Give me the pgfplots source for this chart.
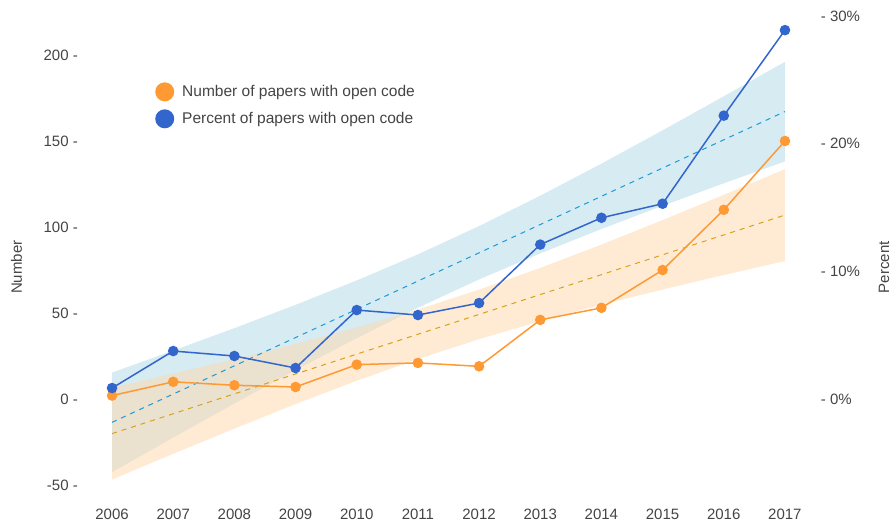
\documentclass[border=0pt]{standalone}
\usepackage{pgfplots}
\pgfplotsset{compat=1.18}
\usepackage{pgfplotstable}
\usepgfplotslibrary{fillbetween}
\usepackage{fontspec}
\setmainfont{Liberation Sans}
\definecolor{orgline}{HTML}{FF9933}
\definecolor{blueline}{HTML}{3366CC}
\definecolor{orgdash}{HTML}{D6A21C}
\definecolor{bluedash}{HTML}{1A9AD6}
\definecolor{orgband}{HTML}{FFD7AA}
\definecolor{blueband}{HTML}{ADD8E6}
\definecolor{txt}{HTML}{444444}

% year, number of papers
\pgfplotstableread{
year num
2006 2
2007 10
2008 8
2009 7
2010 20
2011 21
2012 19
2013 46
2014 53
2015 75
2016 110
2017 150
}\numtab
% year, percent of papers
\pgfplotstableread{
year pct
2006 0.86
2007 3.76
2008 3.37
2009 2.43
2010 6.97
2011 6.58
2012 7.52
2013 12.1
2014 14.2
2015 15.3
2016 22.2
2017 28.9
}\pcttab
% linear trend of number with band
\pgfplotstableread{
year fit lo hi
2006 -20.10 -46.80 6.60
2007 -8.55 -31.85 14.75
2008 3.00 -17.20 23.20
2009 14.55 -2.95 32.05
2010 26.10 10.60 41.60
2011 37.64 23.24 52.04
2012 49.19 34.79 63.59
2013 60.74 45.24 76.24
2014 72.29 54.79 89.79
2015 83.84 63.64 104.04
2016 95.39 72.09 118.69
2017 106.94 80.24 133.64
}\numfit
% linear trend of percent with band
\pgfplotstableread{
year fit lo hi
2006 -1.826 -5.73 2.07
2007 0.388 -3.02 3.80
2008 2.601 -0.35 5.55
2009 4.815 2.26 7.38
2010 7.028 4.77 9.29
2011 9.242 7.15 11.33
2012 11.456 9.37 13.55
2013 13.669 11.41 15.93
2014 15.883 13.32 18.44
2015 18.096 15.14 21.05
2016 20.310 16.90 23.72
2017 22.524 18.62 26.42
}\pctfit

\pgfplotsset{
  base/.style={
    scale only axis, width=697.4pt, height=476.5pt,
    at={(0,0)}, anchor=south west,
    xmin=2005.8, xmax=2017.2, clip=false,
    axis line style={draw=none}, tick style={draw=none},
    major tick length=0pt,
    font=\fontsize{15}{18}\selectfont,
    every tick label/.append style={text=txt},
  },
  numax/.style={base, ymin=-53, ymax=224},
  pctax/.style={base, ymin=-7.143, ymax=30.189},
}

\begin{document}
\begin{tikzpicture}
% blue band and blue trend
\begin{axis}[pctax, hide axis]
\addplot[name path=bhi, draw=none, forget plot] table[x=year, y=hi] {\pctfit};
\addplot[name path=blo, draw=none, forget plot] table[x=year, y=lo] {\pctfit};
\addplot[blueband, fill opacity=0.5, draw=none, forget plot] fill between[of=bhi and blo];
\addplot[bluedash, line width=1pt, dash pattern=on 5pt off 5pt, forget plot]
  table[x=year, y=fit] {\pctfit};
\end{axis}
% number axis: orange band, trend and line
\begin{axis}[numax,
  axis x line=bottom, axis y line=left,
  xtick={2006,...,2017},
  xticklabels={2006,2007,2008,2009,2010,2011,2012,2013,2014,2015,2016,2017},
  xticklabel style={anchor=north, inner sep=0pt, yshift=-19pt},
  ytick={-50,0,50,100,150,200},
  yticklabels={-50 -,0 -,50 -,100 -,150 -,200 -},
  yticklabel style={anchor=east, inner sep=0pt, xshift=-21.8pt},
  ylabel={Number},
  every axis y label/.style={at={(axis description cs:-0.1194,0.468)}, rotate=90,
     anchor=center, text=txt},
]
\addplot[name path=ohi, draw=none, forget plot] table[x=year, y=hi] {\numfit};
\addplot[name path=olo, draw=none, forget plot] table[x=year, y=lo] {\numfit};
\addplot[orgband, fill opacity=0.5, draw=none, forget plot] fill between[of=ohi and olo];
\addplot[orgdash, line width=1pt, dash pattern=on 5pt off 5pt, forget plot]
  table[x=year, y=fit] {\numfit};
\addplot[orgline, line width=1.5pt, mark=*, mark size=4.5pt,
  mark options={solid, fill=orgline, draw=orgline}]
  table[x=year, y=num] {\numtab};
\end{axis}
% percent axis: blue line, right ticks, legend
\begin{axis}[pctax,
  axis x line=none, axis y line=right,
  ytick={0,10,20,30},
  yticklabels={- 0\%,- 10\%,- 20\%,- 30\%},
  yticklabel style={anchor=west, inner sep=0pt, xshift=23.5pt},
  ylabel={Percent},
  every axis y label/.style={at={(axis description cs:1.1245,0.468)}, rotate=90,
     anchor=center, text=txt},
  legend style={draw=none, fill=none, at={(0.0795,0.856)}, anchor=north west,
     inner sep=0pt, outer sep=0pt, row sep=8pt,
     nodes={inner sep=0pt, text=txt, font=\fontsize{15.5}{18}\selectfont},
     /tikz/every odd column/.append style={column sep=8pt}},
  legend cell align=left,
  legend image code/.code={\fill[#1] (9.5pt,0pt) circle (9.5pt);},
]
\addlegendimage{fill=orgline, draw=none}
\addlegendentry{Number of papers with open code}
\addlegendimage{fill=blueline, draw=none}
\addlegendentry{Percent of papers with open code}
\addplot[blueline, line width=1.5pt, mark=*, mark size=4.5pt,
  mark options={solid, fill=blueline, draw=blueline}, forget plot]
  table[x=year, y=pct] {\pcttab};
\end{axis}
\pgfresetboundingbox
\path[use as bounding box] (-99.8pt,-33.8pt) rectangle (791.2pt,490.2pt);
\end{tikzpicture}
\end{document}
